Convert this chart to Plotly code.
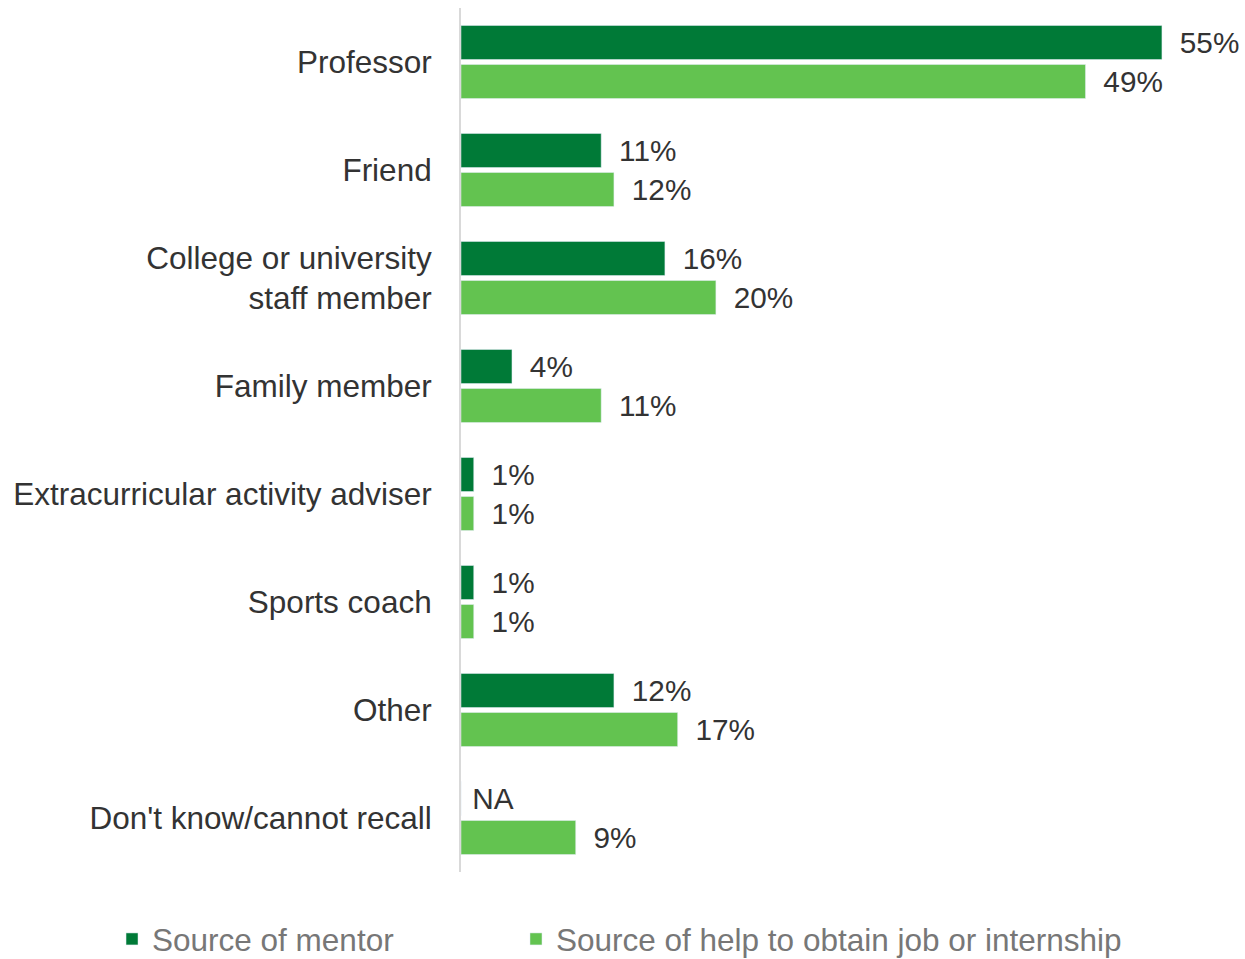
import plotly.graph_objects as go

categories = ["Professor", "Friend", "College or university<br>staff member", "Family member",
              "Extracurricular activity adviser", "Sports coach", "Other", "Don't know/cannot recall"]
mentor = [55, 11, 16, 4, 1, 1, 12, None]
job_help = [49, 12, 20, 11, 1, 1, 17, 9]
series_names = ["Source of mentor", "Source of help to obtain job or internship"]

DARK = "#007A37"
LIGHT = "#63C350"
TXT = "#333333"
LEG = "#777777"
FONT = "Liberation Sans, Arial, sans-serif"
FS = 31.5

def labels(vals):
    return [("\u2002" + f"{v}%") if v is not None else "\u00a0NA" for v in vals]

fig = go.Figure()
fig.add_trace(go.Bar(
    y=categories, x=[v if v is not None else 0 for v in mentor], orientation="h",
    name=series_names[0], marker_color=DARK, legend="legend",
    text=labels(mentor), textposition="outside", cliponaxis=False,
    textfont=dict(size=FS, color=TXT, family=FONT), hoverinfo="skip",
))
fig.add_trace(go.Bar(
    y=categories, x=job_help, orientation="h",
    name=series_names[1], marker_color=LIGHT, legend="legend2",
    text=labels(job_help), textposition="outside", cliponaxis=False,
    textfont=dict(size=FS, color=TXT, family=FONT), hoverinfo="skip",
))

fig.update_layout(
    width=1245, height=959,
    margin=dict(l=461, r=15, t=8, b=87, autoexpand=False),
    paper_bgcolor="white", plot_bgcolor="white",
    barmode="group", bargap=0.278, bargroupgap=0.128,
    font=dict(family=FONT, size=FS, color=TXT),
    showlegend=True,
    legend=dict(orientation="h", x=-0.4538, xanchor="left", y=-0.0775, yanchor="middle",
                font=dict(size=31.5, color=LEG, family=FONT), itemclick=False),
    legend2=dict(orientation="h", x=0.0715, xanchor="left", y=-0.0775, yanchor="middle",
                 font=dict(size=31.5, color=LEG, family=FONT), itemclick=False),
    xaxis=dict(range=[0, 60.34], visible=False, showgrid=False, zeroline=False),
    yaxis=dict(autorange="reversed", showgrid=False, zeroline=False,
               showline=True, linecolor="#D9D9D9", linewidth=2,
               ticks="", ticklabelstandoff=21,
               tickfont=dict(size=FS, color=TXT, family=FONT)),
)

fig.write_html("out.html", config={"displayModeBar": False},
               post_script="document.body.style.margin='0';document.body.style.overflow='hidden';")
